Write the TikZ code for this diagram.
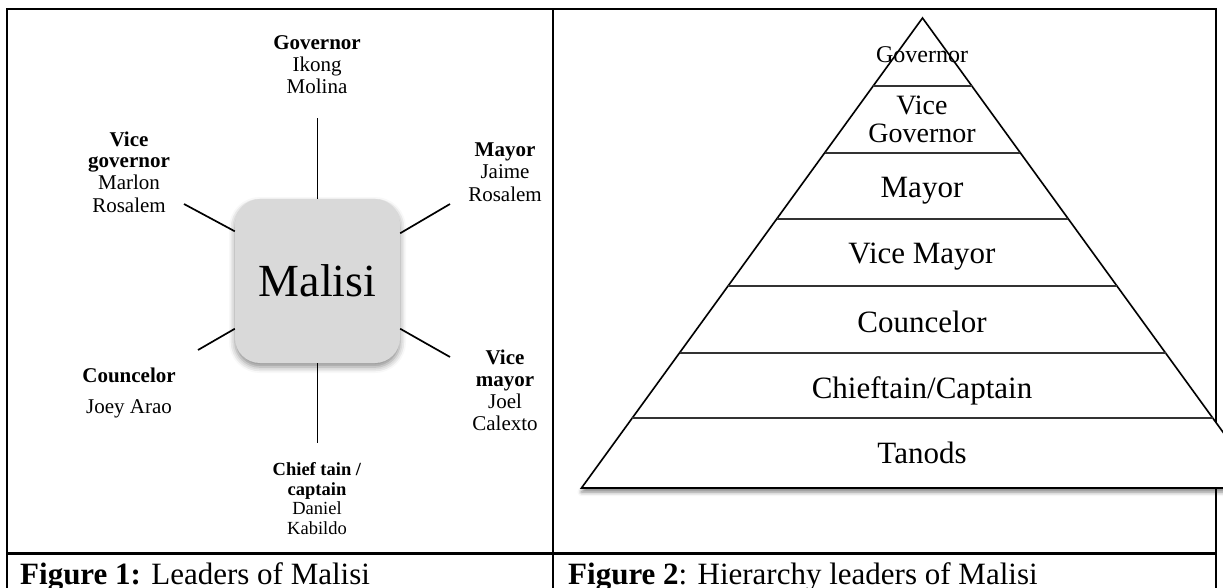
\documentclass[tikz,border=0pt]{standalone}
\usepackage{fontspec}
\setmainfont{Liberation Serif}
\usetikzlibrary{shadows.blur}
\begin{document}
\begin{tikzpicture}[x=1pt,y=-1pt,
  rule/.style={line width=2.2pt},
  conn/.style={line width=1.7pt},
  lab/.style={align=center, inner sep=0pt, anchor=base, font=\fontsize{21}{22}\selectfont},
  smalllab/.style={lab, font=\fontsize{18.5}{19.5}\selectfont},
  hub/.style={rounded corners=25pt, fill=black!15, inner sep=0pt,
    minimum width=165pt, minimum height=164pt, font=\fontsize{46}{50}\selectfont,
    blur shadow={shadow xshift=0pt, shadow yshift=-4pt, shadow blur radius=6pt, shadow opacity=45}},
  pyr/.style={line width=1.6pt, fill=white,
    blur shadow={shadow xshift=0pt, shadow yshift=-4pt, shadow blur radius=4pt, shadow opacity=50}},
  band/.style={line width=2pt, draw=black!80},
  level/.style={inner sep=0pt, anchor=base, font=\fontsize{31}{31}\selectfont},
  capt/.style={inner sep=0pt, anchor=base west, font=\fontsize{31}{32}\selectfont}
]
\useasboundingbox (0,0) rectangle (1223,588);
\begin{scope}
\clip (0,0) rectangle (1223,588);
% table rules
\draw[rule] (6,9) -- (1217,9);
\draw[rule] (7.3,9) -- (7.3,600);
\draw[rule] (553,9) -- (553,600);
\draw[rule] (1216,9) -- (1216,600);
\draw[rule] (7.3,553.5) -- (1216,553.5);

% ---------- Figure 1 ----------
\node[hub] (hub) at (317.5,281) {Malisi};
\coordinate (eTop) at (317.5,118);
\coordinate (eBot) at (317.5,443);
\coordinate (eUL) at (184,204);
\coordinate (eUR) at (450,204);
\coordinate (eLL) at (198,350);
\coordinate (eLR) at (450,357);
\draw[conn] (hub.north) -- (eTop);
\draw[conn] (hub.south) -- (eBot);
\draw[conn] (hub.149.5) -- (eUL);
\draw[conn] (hub.30.5) -- (eUR);
\draw[conn] (hub.210) -- (eLL);
\draw[conn] (hub.330) -- (eLR);

% anchor=base of a multi-line node is the baseline of its last line
\node[lab] (gov) at (317,94) {\textbf{Governor}\\Ikong\\Molina};
\node[lab] (vgov) at (129,212) {\textbf{Vice}\\\textbf{governor}\\Marlon\\Rosalem};
\node[lab] (may) at (505,201) {\textbf{Mayor}\\Jaime\\Rosalem};
\node[lab] (cou) at (129,413) {\textbf{Councelor}\\[9pt]Joey Arao};
\node[lab] (vmay) at (505,430) {\textbf{Vice}\\\textbf{mayor}\\Joel\\Calexto};
\node[smalllab] (chief) at (317,534) {\textbf{Chief tain /}\\\textbf{captain}\\Daniel\\Kabildo};

% ---------- Figure 2 ----------
\path[pyr, draw] (922.5,18) -- (1263.5,488) -- (581.5,488) -- cycle;
\draw[band] (873.2,86) -- (971.8,86);
\draw[band] (824.6,153) -- (1020.4,153);
\draw[band] (776.7,219) -- (1068.3,219);
\draw[band] (728.1,286) -- (1116.9,286);
\draw[band] (679.5,353) -- (1165.5,353);
\draw[band] (632.3,418) -- (1212.7,418);

\node[level, font=\fontsize{24}{24}\selectfont] (p1) at (922,63) {Governor};
\node[level, align=center, font=\fontsize{28}{28}\selectfont] (p2) at (922,143) {Vice\\Governor};
\node[level] (p3) at (922,197) {Mayor};
\node[level] (p4) at (922,263) {Vice Mayor};
\node[level] (p5) at (922,332) {Councelor};
\node[level] (p6) at (922,398) {Chieftain/Captain};
\node[level] (p7) at (922,463) {Tanods};

% captions
\node[capt] (c1) at (20,584) {\textbf{Figure 1:} Leaders of Malisi};
\node[capt] (c2) at (568,584) {\textbf{Figure 2}: Hierarchy leaders of Malisi};
\end{scope}
\end{tikzpicture}
\end{document}
